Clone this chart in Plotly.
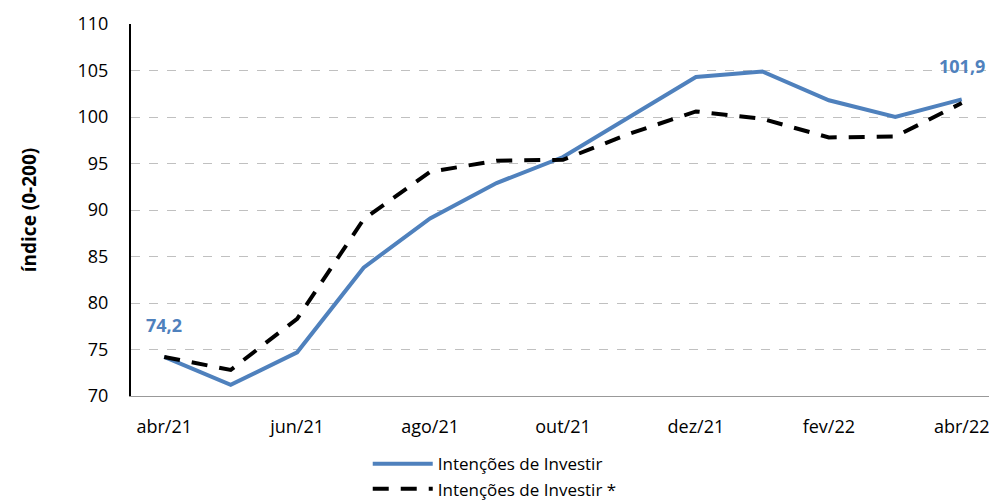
import plotly.graph_objects as go

months = ["abr/21", "mai/21", "jun/21", "jul/21", "ago/21", "set/21", "out/21",
          "nov/21", "dez/21", "jan/22", "fev/22", "mar/22", "abr/22"]
intencoes = [74.2, 71.2, 74.7, 83.8, 89.1, 92.9, 95.7, 100.0, 104.3, 104.9, 101.8, 100.0, 101.9]
intencoes_star = [74.2, 72.8, 78.3, 89.0, 94.1, 95.3, 95.4, 98.2, 100.6, 99.8, 97.8, 97.9, 101.5]
tick_idx = [0, 2, 4, 6, 8, 10, 12]
tick_labels = [months[i] for i in tick_idx]
y_ticks = [70, 75, 80, 85, 90, 95, 100, 105, 110]

blue = "#4F81BD"
FONT = "Open Sans"
x = list(range(len(months)))

fig = go.Figure()
fig.add_trace(go.Scatter(x=x, y=intencoes, mode="lines", name="Intenções de Investir",
                         line=dict(color=blue, width=4)))
fig.add_trace(go.Scatter(x=x, y=intencoes_star, mode="lines", name="Intenções de Investir *",
                         line=dict(color="black", width=4, dash="16px,12px")))

fig.add_annotation(x=x[0], y=intencoes[0], text="<b>74,2</b>", showarrow=False,
                   yshift=32, font=dict(color=blue, size=18, family=FONT))
fig.add_annotation(x=x[-1], y=intencoes[-1], text="<b>101,9</b>", showarrow=False,
                   yshift=33, font=dict(color=blue, size=18, family=FONT))

fig.update_layout(
    width=989, height=493,
    margin=dict(l=123, r=2, t=16, b=105, autoexpand=False),
    paper_bgcolor="white", plot_bgcolor="white",
    font=dict(family=FONT, size=18, color="black"),
    showlegend=True,
    legend=dict(orientation="v", x=0.274, xanchor="left", y=-0.135, yanchor="top",
                font=dict(size=17), tracegroupgap=0, itemwidth=60),
)
fig.update_xaxes(range=[-0.5, 12.5], tickmode="array", tickvals=tick_idx, ticktext=tick_labels,
                 showgrid=False, showline=True, linecolor="#999999", linewidth=1,
                 ticks="", zeroline=False, ticklabelstandoff=14)
fig.update_yaxes(range=[70, 110], tickmode="array", tickvals=y_ticks,
                 showgrid=True, gridcolor="#c0c0c0", griddash="dash", gridwidth=1,
                 showline=True, linecolor="black", linewidth=2, ticks="", zeroline=False,
                 title=dict(text="<b>índice (0-200)</b>", font=dict(size=19), standoff=36),
                 ticklabelstandoff=17)

fig.write_html("out.html")
